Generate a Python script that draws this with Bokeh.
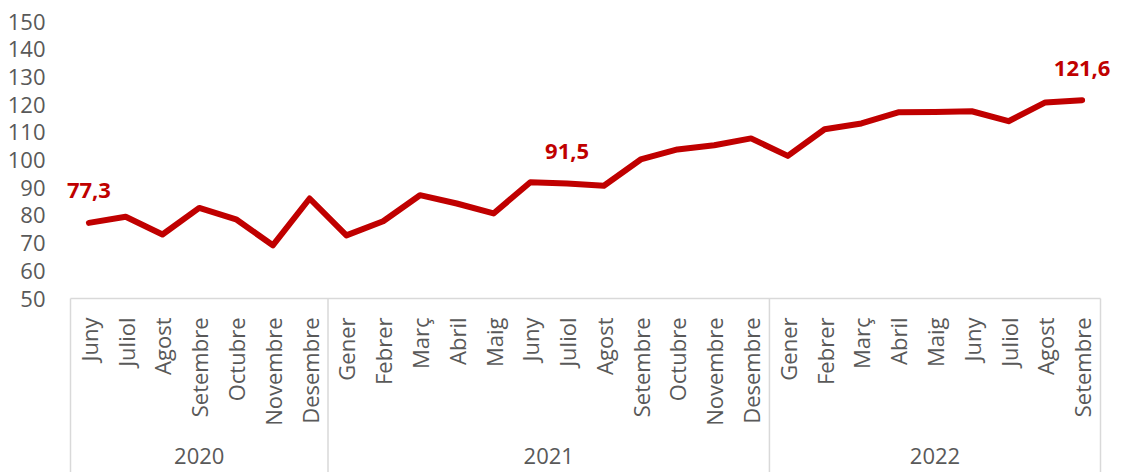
import math
from bokeh.plotting import figure
from bokeh.models import FactorRange, Range1d, FixedTicker, ColumnDataSource, LabelSet
from bokeh.core.properties import value
from bokeh.embed import file_html
from bokeh.resources import INLINE

# ---- data ----
years = ["2020", "2021", "2022"]
months_2020 = ["Juny", "Juliol", "Agost", "Setembre", "Octubre", "Novembre", "Desembre"]
months_2021 = ["Gener", "Febrer", "Març", "Abril", "Maig", "Juny", "Juliol", "Agost",
               "Setembre", "Octubre", "Novembre", "Desembre"]
months_2022 = ["Gener", "Febrer", "Març", "Abril", "Maig", "Juny", "Juliol", "Agost", "Setembre"]
values_2020 = [77.3, 79.5, 73.1, 82.7, 78.6, 69.2, 86.1]
values_2021 = [72.8, 77.9, 87.3, 84.3, 80.7, 92.0, 91.5, 90.7, 100.2, 103.8, 105.3, 107.8]
values_2022 = [101.5, 111.1, 113.2, 117.2, 117.3, 117.6, 114.0, 120.8, 121.6]
y_ticks = [50, 60, 70, 80, 90, 100, 110, 120, 130, 140, 150]
labelled_points = [("2020", "Juny"), ("2021", "Juliol"), ("2022", "Setembre")]

# ---- style ----
FONT = "Open Sans"
GREY = "#595959"
RED = "#C00000"
LINE_GREY = "#D9D9D9"
W, H = 1117, 472
CAT_LEFT, CAT_RIGHT = 70, 1100      # pixel span of the categories
TOP_PX, BASE_PX = 21, 298           # pixel rows of the top and bottom value ticks

months_by_year = [months_2020, months_2021, months_2022]
values_by_year = [values_2020, values_2021, values_2022]
factors = [(y, m) for y, ms in zip(years, months_by_year) for m in ms]
vals = [v for vs in values_by_year for v in vs]

y_min, y_max = y_ticks[0], y_ticks[-1]
px_per_unit = (BASE_PX - TOP_PX) / (y_max - y_min)
y_start = y_min - (H - BASE_PX) / px_per_unit

n = len(factors)
cat_w = (CAT_RIGHT - CAT_LEFT) / n
pad_px = W - CAT_RIGHT
pad_units = pad_px / cat_w
left_border = CAT_LEFT - pad_px

x_range = FactorRange(*factors, group_padding=0, subgroup_padding=0, factor_padding=0,
                      range_padding=pad_units, range_padding_units="absolute")
p = figure(width=W, height=H, x_range=x_range, y_range=Range1d(y_start, y_max),
           output_backend="svg", toolbar_location=None, title=None,
           min_border_left=left_border, min_border_right=0, min_border_top=TOP_PX, min_border_bottom=0)
p.outline_line_color = None
p.grid.visible = False
p.xaxis.visible = False

ax = p.yaxis[0]
ax.ticker = FixedTicker(ticks=y_ticks)
ax.axis_line_color = None
ax.major_tick_line_color = None
ax.minor_tick_line_color = None
ax.major_tick_out = 0
ax.major_tick_in = 0
ax.major_label_standoff = left_border - 45
ax.major_label_text_font = FONT
ax.major_label_text_font_size = "22px"
ax.major_label_text_color = GREY

# category box lines below the value axis
bounds = [0]
for ms in months_by_year:
    bounds.append(bounds[-1] + len(ms))
p.segment(x0=bounds, y0=[y_start] * len(bounds), x1=bounds, y1=[y_min] * len(bounds),
          line_color=LINE_GREY, line_width=1.5)
p.segment(x0=[bounds[0]], y0=[y_min], x1=[bounds[-1]], y1=[y_min], line_color=LINE_GREY, line_width=1.5)

# month labels
p.text(x=factors, y=[y_min] * n, text=[m for _, m in factors], angle=math.pi / 2,
       text_align="right", text_baseline="middle", y_offset=19,
       text_font=value(FONT), text_font_size="22px", text_color=GREY)
# year labels
p.text(x=years, y=[y_min] * len(years), text=years, text_align="center", text_baseline="middle",
       y_offset=157, text_font=value(FONT), text_font_size="22px", text_color=GREY)

# series line
p.line(x=factors, y=vals, line_color=RED, line_width=6, line_join="round", line_cap="round")

# data labels
lab_idx = [factors.index(f) for f in labelled_points]
src = ColumnDataSource(dict(
    x=[factors[i] for i in lab_idx],
    y=[vals[i] for i in lab_idx],
    t=[f"{vals[i]:.1f}".replace(".", ",") for i in lab_idx],
))
p.add_layout(LabelSet(x="x", y="y", text="t", source=src, text_align="center", text_baseline="middle",
                      y_offset=32, text_font=value(FONT), text_font_size="22px",
                      text_font_style="bold", text_color=RED))

open("out.html", "w").write(file_html(p, INLINE))
